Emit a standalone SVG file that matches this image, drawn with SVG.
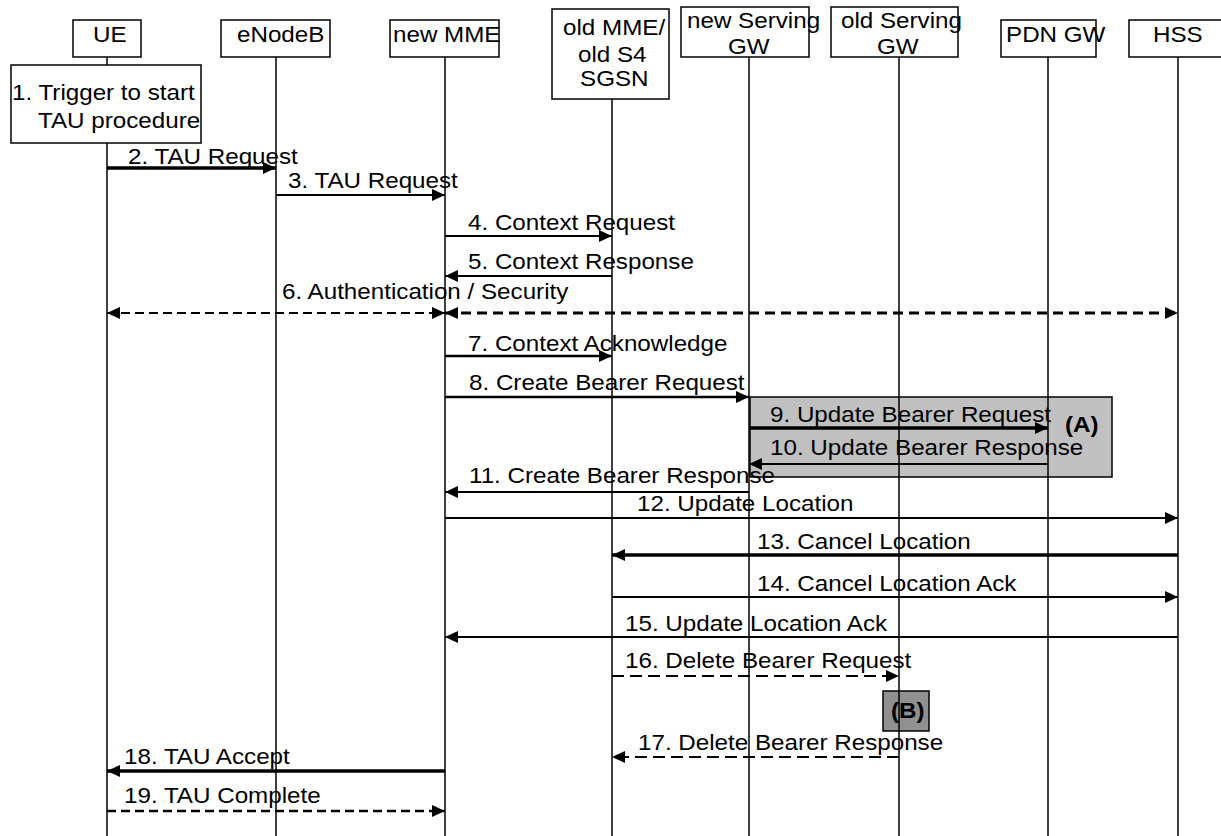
<svg xmlns="http://www.w3.org/2000/svg" width="1221" height="836" viewBox="0 0 1221 836">
<style>
.t{font-family:"Liberation Sans",Arial,sans-serif;font-size:22px;fill:#000}
.b{font-weight:bold}
.box{fill:#fff;stroke:#000;stroke-width:1.5}
.life{stroke:#000;stroke-width:1.5;fill:none}
.m{stroke:#000;fill:none;stroke-width:2;marker-end:url(#ah)}
.thick{stroke-width:3.5}
.med{stroke-width:2.5}
.d1{stroke-dasharray:9 5}
.d2{stroke-dasharray:10 6;stroke-width:3}
.dd{stroke-dasharray:12 6}
.both{marker-start:url(#ah)}
</style>
<defs>
<marker id="ah" markerUnits="userSpaceOnUse" markerWidth="14" markerHeight="12" refX="13" refY="6" orient="auto-start-reverse">
<path d="M0,0 L13,6 L0,12 z" fill="#000"/>
</marker>
</defs>
<rect width="1221" height="836" fill="#fff"/>

<g id="regionA">
<rect x="750" y="397" width="362" height="80" fill="#c0c0c0" stroke="#000" stroke-width="1.5"/>
<text class="t b" transform="translate(1065 432) scale(1.1 1)">(A)</text>
</g>
<g id="regionB">
<rect x="883" y="691" width="46" height="40" fill="#909090" stroke="#000" stroke-width="1.5"/>
<text class="t b" transform="translate(891 718) scale(1.1 1)">(B)</text>
</g>

<g id="UE">
<rect class="box" x="73" y="20" width="68" height="37"/>
<text class="t" transform="translate(93 42) scale(1.1 1)">UE</text>
<line class="life" x1="107" y1="57" x2="107" y2="65"/>
<line class="life" x1="107" y1="143" x2="107" y2="836"/>
</g>
<g id="eNodeB">
<rect class="box" x="221" y="20" width="109" height="37"/>
<text class="t" transform="translate(237 42) scale(1.1 1)">eNodeB</text>
<line class="life" x1="276" y1="57" x2="276" y2="836"/>
</g>
<g id="newMME">
<rect class="box" x="390" y="20" width="109" height="37"/>
<text class="t" transform="translate(393 42) scale(1.1 1)">new MME</text>
<line class="life" x1="445" y1="57" x2="445" y2="836"/>
</g>
<g id="oldMME">
<rect class="box" x="552" y="9" width="117" height="90"/>
<text class="t" transform="translate(563 35) scale(1.1 1)">old MME/</text>
<text class="t" transform="translate(578 62) scale(1.1 1)">old S4</text>
<text class="t" transform="translate(580 86) scale(1.1 1)">SGSN</text>
<line class="life" x1="612" y1="99" x2="612" y2="836"/>
</g>
<g id="newSGW">
<rect class="box" x="681" y="7" width="128" height="50"/>
<text class="t" transform="translate(687 28) scale(1.1 1)">new Serving</text>
<text class="t" transform="translate(728 54) scale(1.1 1)">GW</text>
<line class="life" x1="749" y1="57" x2="749" y2="836"/>
</g>
<g id="oldSGW">
<rect class="box" x="831" y="7" width="127" height="50"/>
<text class="t" transform="translate(841 28) scale(1.1 1)">old Serving</text>
<text class="t" transform="translate(877 54) scale(1.1 1)">GW</text>
<line class="life" x1="899" y1="57" x2="899" y2="836"/>
</g>
<g id="PDNGW">
<rect class="box" x="1001" y="20" width="95" height="37"/>
<text class="t" transform="translate(1006 42) scale(1.1 1)">PDN GW</text>
<line class="life" x1="1048" y1="57" x2="1048" y2="836"/>
</g>
<g id="HSS">
<rect class="box" x="1129" y="20" width="100" height="37"/>
<text class="t" transform="translate(1153 42) scale(1.1 1)">HSS</text>
<line class="life" x1="1178" y1="57" x2="1178" y2="836"/>
</g>
<g id="step1">
<rect class="box" x="11" y="65" width="190" height="78"/>
<text class="t" transform="translate(12 100) scale(1.1 1)">1. Trigger to start</text>
<text class="t" transform="translate(38 128) scale(1.1 1)">TAU procedure</text>
</g>

<g id="connectors">
<line class="m thick" x1="107" y1="168" x2="276" y2="168"/>
<line class="m" x1="276" y1="195" x2="445" y2="195"/>
<line class="m" x1="445" y1="236" x2="612" y2="236"/>
<line class="m" x1="612" y1="276" x2="445" y2="276"/>
<line class="m d1 both" x1="107" y1="313" x2="445" y2="313"/>
<line class="m d2 both" x1="445" y1="313" x2="1178" y2="313"/>
<line class="m med" x1="445" y1="356" x2="612" y2="356"/>
<line class="m med" x1="445" y1="397" x2="749" y2="397"/>
<line class="m thick" x1="749" y1="428" x2="1048" y2="428"/>
<line class="m" x1="1048" y1="464" x2="749" y2="464"/>
<line class="m" x1="749" y1="492" x2="445" y2="492"/>
<line class="m" x1="445" y1="518" x2="1178" y2="518"/>
<line class="m thick" x1="1178" y1="555" x2="612" y2="555"/>
<line class="m" x1="612" y1="597" x2="1178" y2="597"/>
<line class="m" x1="1178" y1="637" x2="445" y2="637"/>
<line class="m dd" x1="612" y1="676" x2="899" y2="676"/>
<line class="m dd" x1="899" y1="757" x2="612" y2="757"/>
<line class="m thick" x1="445" y1="771" x2="107" y2="771"/>
<line class="m med d1" x1="107" y1="811" x2="445" y2="811"/>
</g>

<g id="labels">
<text class="t" transform="translate(128 164) scale(1.1 1)">2. TAU Request</text>
<text class="t" transform="translate(288 188) scale(1.1 1)">3. TAU Request</text>
<text class="t" transform="translate(468 230) scale(1.1 1)">4. Context Request</text>
<text class="t" transform="translate(468 269) scale(1.1 1)">5. Context Response</text>
<text class="t" transform="translate(282 299) scale(1.1 1)">6. Authentication / Security</text>
<text class="t" transform="translate(468 351) scale(1.1 1)">7. Context Acknowledge</text>
<text class="t" transform="translate(469 390) scale(1.1 1)">8. Create Bearer Request</text>
<text class="t" transform="translate(770 422) scale(1.1 1)">9. Update Bearer Request</text>
<text class="t" transform="translate(770 455) scale(1.1 1)">10. Update Bearer Response</text>
<text class="t" transform="translate(469 483) scale(1.1 1)">11. Create Bearer Response</text>
<text class="t" transform="translate(637 511) scale(1.1 1)">12. Update Location</text>
<text class="t" transform="translate(757 549) scale(1.1 1)">13. Cancel Location</text>
<text class="t" transform="translate(757 591) scale(1.1 1)">14. Cancel Location Ack</text>
<text class="t" transform="translate(625 631) scale(1.1 1)">15. Update Location Ack</text>
<text class="t" transform="translate(625 668) scale(1.1 1)">16. Delete Bearer Request</text>
<text class="t" transform="translate(638 750) scale(1.1 1)">17. Delete Bearer Response</text>
<text class="t" transform="translate(124 764) scale(1.1 1)">18. TAU Accept</text>
<text class="t" transform="translate(124 803) scale(1.1 1)">19. TAU Complete</text>
</g>
</svg>
